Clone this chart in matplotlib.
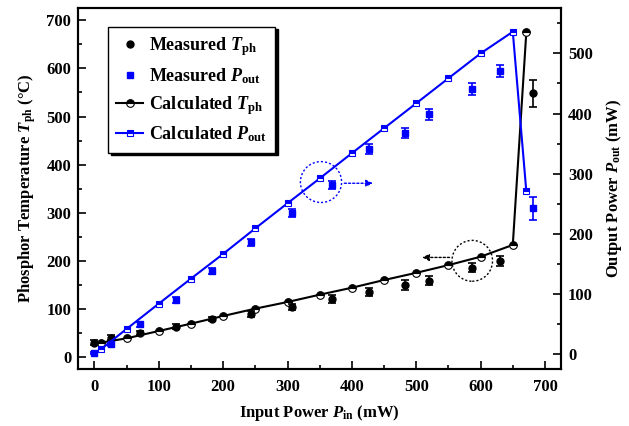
import matplotlib
matplotlib.use("Agg")
import matplotlib.pyplot as plt
from matplotlib.patches import Ellipse
from matplotlib.ticker import MultipleLocator

plt.rcParams['font.family'] = ['Liberation Serif', 'DejaVu Serif']
plt.rcParams['font.weight'] = 'bold'
plt.rcParams['mathtext.fontset'] = 'custom'
plt.rcParams['mathtext.rm'] = 'Liberation Serif:bold'
plt.rcParams['mathtext.it'] = 'Liberation Serif:bold:italic'
plt.rcParams['mathtext.bf'] = 'Liberation Serif:bold'

# ---- data ----
calc_x = [10, 50, 100, 150, 200, 250, 300, 350, 400, 450, 500, 550, 600, 650, 671]
calc_T = [29.8, 38.8, 54, 69.3, 85.2, 100.5, 114.3, 129.5, 144, 160, 175, 191, 208.5, 233, 675]
calc_P = [7.8, 41.6, 83.7, 125.3, 166.4, 209, 250.7, 292, 334, 375.5, 417, 458.6, 500, 536, 270.7]

meas_x = [0, 26, 71, 126, 183, 244, 307, 369, 427, 482, 520, 587, 630, 681]
meas_T = [29.8, 40, 50, 63, 79, 89.4, 104.6, 120, 134.5, 149.7, 158.6, 185.7, 199.6, 548]
meas_T_err = [5, 5, 5, 5, 5, 6, 6, 8, 8.7, 10, 9.7, 9.7, 9.4, 28]
meas_P = [2, 16, 49.4, 89, 138.6, 186, 234.6, 281, 340.6, 368, 399, 441, 471, 242]
meas_P_err = [2, 3, 4, 5, 5, 6, 6, 6, 8, 8, 9, 10, 10, 19]

fig = plt.figure(figsize=(6.29, 4.26), dpi=100)
ax = fig.add_axes([0.1245, 0.1338, 0.892 - 0.1245, 0.9805 - 0.1338])
ax2 = ax.twinx()

blue = '#0000ff'

# calculated
lT, = ax.plot(calc_x, calc_T, '-', color='black', lw=1.5, marker='o', ms=5.5,
              fillstyle='top', markerfacecolor='black', markerfacecoloralt='white',
              markeredgecolor='black', mew=0.8, label=r'Calculated $T_{\rm ph}$')
lP, = ax2.plot(calc_x, calc_P, '-', color=blue, lw=1.5, marker='s', ms=5,
               fillstyle='top', markerfacecolor=blue, markerfacecoloralt='white',
               markeredgecolor=blue, mew=0.8, label=r'Calculated $P_{\rm out}$')

# measured
ax.errorbar(meas_x, meas_T, yerr=meas_T_err, fmt='none', ecolor='black',
            elinewidth=1.2, capsize=3, capthick=1.2)
mT, = ax.plot(meas_x, meas_T, 'o', color='black', ms=5, ls='none',
              label=r'Measured $T_{\rm ph}$')
ax2.errorbar(meas_x, meas_P, yerr=meas_P_err, fmt='none', ecolor=blue,
             elinewidth=1.2, capsize=3, capthick=1.2)
mP, = ax2.plot(meas_x, meas_P, 's', color=blue, ms=5, ls='none',
               label=r'Measured $P_{\rm out}$')

ax.set_xlim(-25, 725)
ax.set_ylim(-25, 725)
ax2.set_ylim(-25, 575)

ax.xaxis.set_major_locator(MultipleLocator(100))
ax.xaxis.set_minor_locator(MultipleLocator(50))
ax.yaxis.set_major_locator(MultipleLocator(100))
ax.yaxis.set_minor_locator(MultipleLocator(50))
ax2.yaxis.set_major_locator(MultipleLocator(100))
ax2.yaxis.set_minor_locator(MultipleLocator(50))

for a in (ax, ax2):
    a.tick_params(which='major', direction='in', length=6, width=1.2, labelsize=12)
    a.tick_params(which='minor', direction='in', length=3, width=1.2)
    for s in a.spines.values():
        s.set_linewidth(1.5)
ax.tick_params(axis='x', pad=7)
ax.tick_params(axis='y', pad=5)
ax2.tick_params(axis='y', pad=5)

ax.set_xlabel(r'Input Power $P_{\rm in}$ (mW)', fontsize=12, fontweight='bold', labelpad=6)
ax.set_ylabel(r'Phosphor Temperature $T_{\rm ph}$ (°C)', fontsize=12, fontweight='bold', labelpad=6)
ax2.set_ylabel(r'Output Power $P_{\rm out}$ (mW)', fontsize=12, fontweight='bold', labelpad=8)

# annotation circles and arrows
ax2.add_patch(Ellipse((352, 286), 64, 68, fill=False, ls=(0, (1.5, 1.5)), ec=blue, lw=1.0))
ax2.annotate('', xy=(437, 284), xytext=(384, 284),
             arrowprops=dict(arrowstyle='-|>', ls=(0, (1.5, 1.5)), color=blue, lw=1.0,
                             mutation_scale=10))
ax.add_patch(Ellipse((587, 200), 63, 85, fill=False, ls=(0, (1.5, 1.5)), ec='black', lw=1.0))
ax.annotate('', xy=(505, 207), xytext=(556, 207),
            arrowprops=dict(arrowstyle='-|>', ls=(0, (1.5, 1.5)), color='black', lw=1.0,
                            mutation_scale=10))

leg = ax2.legend(handles=[mT, mP, lT, lP], loc='upper left',
                 bbox_to_anchor=(0.062, 0.949), borderaxespad=0, fontsize=13, frameon=True,
                 fancybox=False, edgecolor='black', framealpha=1,
                 shadow={'color': 'black', 'alpha': 1},
                 handlelength=1.5, handletextpad=0.3, borderpad=0.45, labelspacing=0.45)
leg.get_frame().set_linewidth(1.0)

fig.savefig('out.png', dpi=100)
